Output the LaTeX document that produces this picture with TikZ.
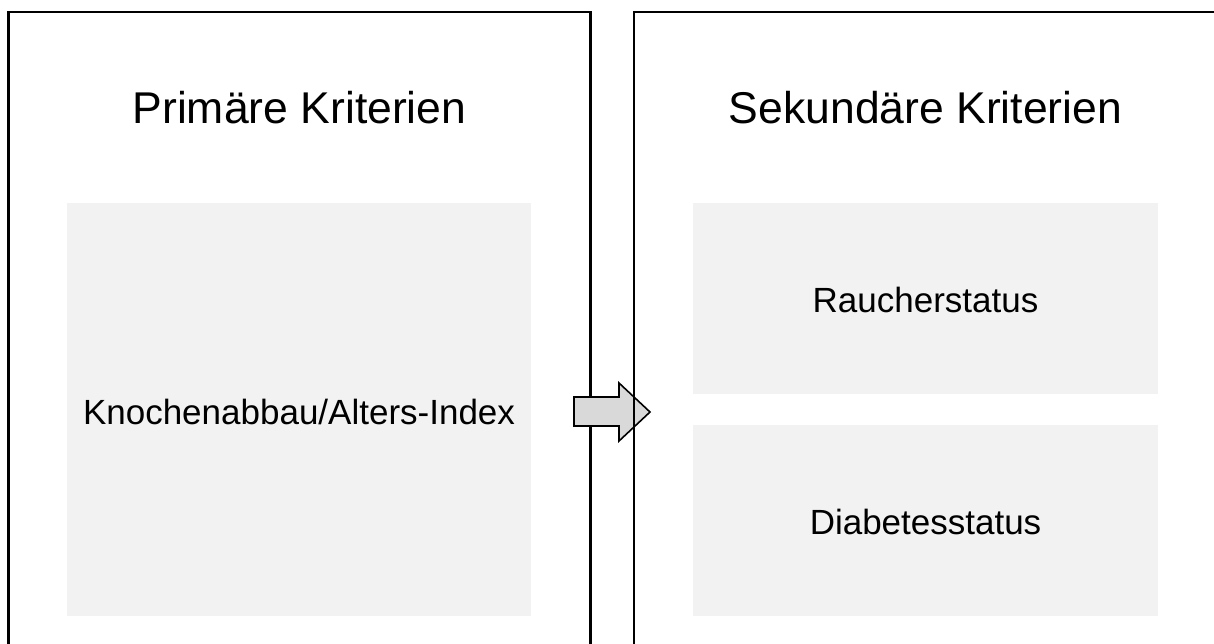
\documentclass[tikz,border=0pt]{standalone}
\usepackage{fontspec}
\setmainfont{Liberation Sans}
\definecolor{boxgray}{HTML}{F2F2F2}
\definecolor{arrowgray}{HTML}{D9D9D9}
\begin{document}
\begin{tikzpicture}[x=1pt,y=-1pt,
  frame/.style={draw=black,line width=2.4pt},
  inner/.style={fill=boxgray,draw=none},
  title/.style={font=\fontsize{44.5}{50}\selectfont,anchor=center},
  label/.style={font=\fontsize{35}{40}\selectfont,anchor=center},
  blockarrow/.style={draw=black,line width=1.6pt,fill=arrowgray,line join=miter}]
\useasboundingbox (0,0) rectangle (1214,643);
\begin{scope}
\clip (0,0) rectangle (1214,643);
\fill[white] (0,0) rectangle (1214,643);
\draw[frame] (8.5,12) rectangle (590.5,660);
\fill[inner] (67,203) rectangle (531,616);
\fill[inner] (693,203) rectangle (1158,394);
\fill[inner] (693,425) rectangle (1158,616);
\draw[blockarrow] (574,397) -- (619,397) -- (619,383) -- (650,412) -- (619,441) -- (619,426) -- (574,426) -- cycle;
\draw[frame] (634,12) rectangle (1218,660);
\end{scope}
\node[title] (t1) at (299.5,108) {Primäre Kriterien};
\node[title] (t2) at (925.5,108) {Sekundäre Kriterien};
\node[label] (k) at (299,412) {Knochenabbau/Alters-Index};
\node[label] (r) at (925.5,300) {Raucherstatus};
\node[label] (d) at (925.5,522) {Diabetesstatus};
\end{tikzpicture}
\end{document}
